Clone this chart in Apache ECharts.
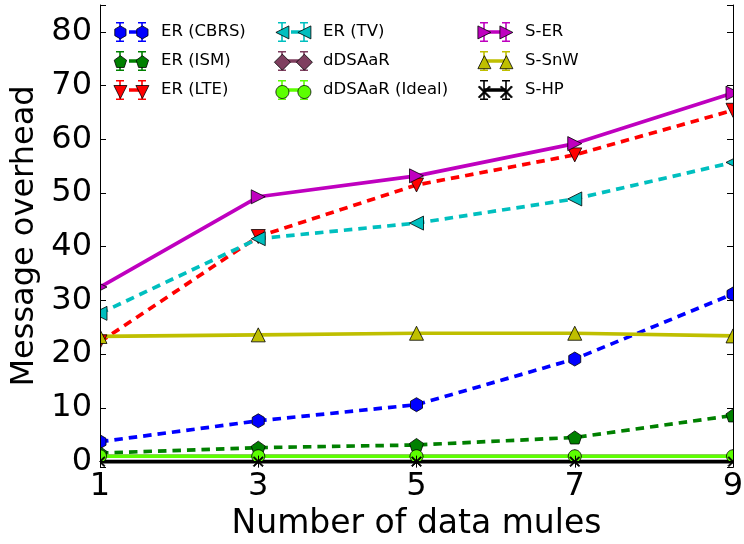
<!DOCTYPE html>
<html>
<head>
<meta charset="utf-8">
<script src="https://cdn.jsdelivr.net/npm/echarts@6/dist/echarts.min.js"></script>
<style>
  html, body { margin: 0; padding: 0; background: #fff; }
  #chart { width: 744px; height: 544px; }
</style>
</head>
<body>
<div id="chart"></div>
<script>
// Number of data mules (x categories)
const muleCounts = ['1', '3', '5', '7', '9'];

// Message overhead per scheme
const erCBRS      = [3.7, 7.6, 10.6, 19.1, 31.2];
const erISM       = [1.6, 2.6, 3.1, 4.5, 8.6];
const erLTE       = [22.3, 41.9, 51.5, 57.1, 65.4];
const erTV        = [27.6, 41.5, 44.4, 48.9, 55.7];
const dDSAaR      = [1.0, 1.0, 1.0, 1.0, 1.0];
const dDSAaRIdeal = [1.0, 1.0, 1.0, 1.0, 1.0];
const sER         = [32.5, 49.3, 53.2, 59.2, 68.6];
const sSnW        = [23.3, 23.6, 23.9, 23.9, 23.4];
const sHP         = [0, 0, 0, 0, 0];

const FONT = 'DejaVu Sans';

// Plot frame
const W = 744, H = 544;
const G = { left: 100, right: 11, top: 5, bottom: 77 };

// ---- marker geometry (polygons wound clockwise so unions fill cleanly) ----
function poly(pts) {
  let a = 0;
  for (let i = 0; i < pts.length; i++) {
    const p = pts[i], q = pts[(i + 1) % pts.length];
    a += p[0] * q[1] - q[0] * p[1];
  }
  if (a < 0) pts = pts.slice().reverse();
  return 'M' + pts.map(p => p[0].toFixed(3) + ',' + p[1].toFixed(3)).join('L') + 'Z';
}
function ring(n, start) {
  const out = [];
  for (let k = 0; k < n; k++) {
    const t = (start + k * 360 / n) * Math.PI / 180;
    out.push([Math.cos(t), Math.sin(t)]);
  }
  return out;
}
const unitShapes = {
  hexagon: [ring(6, -90)],
  pentagon: [ring(5, -90)],
  circle: [ring(32, 0)],
  triDown: [[[-1, -1], [1, -1], [0, 1]]],
  triLeft: [[[1, -1], [1, 1], [-1, 0]]],
  triRight: [[[-1, -1], [1, 0], [-1, 1]]],
  triUp: [[[0, -1], [1, 1], [-1, 1]]],
  diamond: [[[0, -1], [1, 0], [0, 1], [-1, 0]]],
  cross: (function () {
    const t = 0.1;
    return [
      [[-1 - t, -1 + t], [-1 + t, -1 - t], [1 + t, 1 - t], [1 - t, 1 + t]],
      [[1 - t, -1 - t], [1 + t, -1 + t], [-1 + t, 1 + t], [-1 - t, 1 - t]]
    ];
  })()
};
function shapePath(name, cx, cy, r) {
  return unitShapes[name]
    .map(pts => poly(pts.map(p => [cx + p[0] * r, cy + p[1] * r])))
    .join('');
}
function rect(x, y, w, h) {
  return poly([[x, y], [x + w, y], [x + w, y + h], [x, y + h]]);
}

// ---- series styling ----
const schemes = [
  { name: 'ER (CBRS)',      data: erCBRS,      color: '#0000ff', marker: 'hexagon',  size: [12, 14], dashed: true,  legendR: 6.5 },
  { name: 'ER (ISM)',       data: erISM,       color: '#008000', marker: 'pentagon', size: [14, 13], dashed: true,  legendR: 6.5 },
  { name: 'ER (LTE)',       data: erLTE,       color: '#ff0000', marker: 'triDown',  size: [14, 14], dashed: true,  legendR: 6.5 },
  { name: 'ER (TV)',        data: erTV,        color: '#00bfbf', marker: 'triLeft',  size: [14, 14], dashed: true,  legendR: 6.5 },
  { name: 'dDSAaR',         data: dDSAaR,      color: '#7f3f5f', marker: 'diamond',  size: [13, 13], dashed: false, legendR: 8 },
  { name: 'dDSAaR (Ideal)', data: dDSAaRIdeal, color: '#5cff00', marker: 'circle',   size: [13, 13], dashed: false, legendR: 6.5 },
  { name: 'S-ER',           data: sER,         color: '#bf00bf', marker: 'triRight', size: [14, 14], dashed: false, legendR: 6.5 },
  { name: 'S-SnW',          data: sSnW,        color: '#bfbf00', marker: 'triUp',    size: [14, 14], dashed: false, legendR: 6.5 },
  { name: 'S-HP',           data: sHP,         color: '#000000', marker: 'cross',    size: [10, 10], dashed: false, legendR: 5.5 }
];

// ---- legend icons: 50x20 box, two markers joined by a line, with error caps ----
const IW = 50, IH = 20, C1 = 14, C2 = 36, CY = 10;
const boxCorners = 'M0,0L0,0ZM' + IW + ',' + IH + 'L' + IW + ',' + IH + 'Z';
function lineIcon(s) {
  let p = boxCorners;
  [C1, C2].forEach(cx => {
    p += rect(cx - 0.8, 0, 1.6, IH) + rect(cx - 4, 0, 8, 1.6) + rect(cx - 4, IH - 1.6, 8, 1.6);
  });
  if (s.dashed) p += rect(C1 + 9, CY - 1.75, C2 - C1 - 9, 3.5);
  else p += rect(C1, CY - 1.75, C2 - C1, 3.5);
  return 'path://' + p;
}
function markerIcon(s) {
  return 'path://' + boxCorners +
    shapePath(s.marker, C1, CY, s.legendR) + shapePath(s.marker, C2, CY, s.legendR);
}

const legendColumns = [[0, 1, 2], [3, 4, 5], [6, 7, 8]];
const legendLefts = [106, 268, 470];
const legends = [];
legendColumns.forEach((col, ci) => {
  const common = {
    orient: 'vertical', left: legendLefts[ci], top: 22, padding: 0,
    itemWidth: IW, itemHeight: IH, itemGap: 9, symbolKeepAspect: true,
    selectedMode: false
  };
  legends.push(Object.assign({}, common, {
    z: 6,
    data: col.map(i => ({ name: schemes[i].name, icon: lineIcon(schemes[i]) })),
    itemStyle: { borderWidth: 0 },
    textStyle: { fontFamily: FONT, fontSize: 16.5, color: '#000' }
  }));
  legends.push(Object.assign({}, common, {
    z: 7,
    data: col.map(i => ({ name: schemes[i].name, icon: markerIcon(schemes[i]) })),
    itemStyle: { borderColor: '#000', borderWidth: 0.8 },
    textStyle: { fontFamily: FONT, fontSize: 16.5, color: 'rgba(0,0,0,0)' }
  }));
});

const axisLineStyle = { color: '#000', width: 1 };
const tickStyle = { show: true, inside: true, length: 6, lineStyle: { color: '#000', width: 1 } };
const yRange = { min: -1, max: 85, splitNumber: 9 };

const option = {
  animation: false,
  backgroundColor: '#fff',
  grid: { left: G.left, right: G.right, top: G.top, bottom: G.bottom, containLabel: false, outerBoundsMode: 'none' },
  legend: legends,
  xAxis: [
    {
      type: 'category', data: muleCounts, boundaryGap: false, position: 'bottom', z: 10,
      axisLine: { show: true, lineStyle: axisLineStyle },
      axisTick: Object.assign({ alignWithLabel: true }, tickStyle),
      axisLabel: { fontFamily: FONT, fontSize: 32, color: '#000', margin: 4 },
      splitLine: { show: false },
      name: 'Number of data mules', nameLocation: 'middle', nameGap: 41,
      nameTextStyle: { fontFamily: FONT, fontSize: 33, color: '#000' }
    },
    {
      type: 'category', data: muleCounts, boundaryGap: false, position: 'top', z: 10,
      axisLine: { show: true, lineStyle: axisLineStyle },
      axisTick: Object.assign({ alignWithLabel: true }, tickStyle),
      axisLabel: { show: false },
      splitLine: { show: false }
    }
  ],
  yAxis: [
    Object.assign({
      type: 'value', position: 'left', z: 10,
      axisLine: { show: true, lineStyle: axisLineStyle },
      axisTick: tickStyle,
      axisLabel: {
        fontFamily: FONT, fontSize: 32, color: '#000', margin: 8,
        formatter: v => (Math.abs(v % 10) < 1e-9 ? String(v) : '')
      },
      splitLine: { show: false },
      name: 'Message overhead', nameLocation: 'middle', nameGap: 59,
      nameTextStyle: { fontFamily: FONT, fontSize: 32, color: '#000' }
    }, yRange),
    Object.assign({
      type: 'value', position: 'right', z: 10,
      axisLine: { show: true, lineStyle: axisLineStyle },
      axisTick: tickStyle,
      axisLabel: { show: false },
      splitLine: { show: false }
    }, yRange)
  ],
  // white margins that trim markers sitting on the frame
  graphic: [
    { type: 'rect', z: 5, silent: true, shape: { x: 0, y: 0, width: G.left, height: H }, style: { fill: '#fff' } },
    { type: 'rect', z: 5, silent: true, shape: { x: W - G.right, y: 0, width: G.right, height: H }, style: { fill: '#fff' } },
    { type: 'rect', z: 5, silent: true, shape: { x: 0, y: 0, width: W, height: G.top }, style: { fill: '#fff' } },
    { type: 'rect', z: 5, silent: true, shape: { x: 0, y: H - G.bottom, width: W, height: G.bottom }, style: { fill: '#fff' } }
  ],
  series: schemes.map(s => ({
    name: s.name,
    type: 'line',
    xAxisIndex: 0,
    yAxisIndex: 0,
    data: s.data,
    symbol: 'path://' + shapePath(s.marker, 0, 0, 10),
    symbolSize: s.size,
    showAllSymbol: true,
    lineStyle: { color: s.color, width: 3.7, type: s.dashed ? [8.5, 6] : 'solid' },
    itemStyle: { color: s.color, borderColor: '#000', borderWidth: 0.8 },
    emphasis: { disabled: true }
  }))
};

const chart = echarts.init(document.getElementById('chart'), null, { renderer: 'canvas' });
chart.setOption(option);
</script>
</body>
</html>
